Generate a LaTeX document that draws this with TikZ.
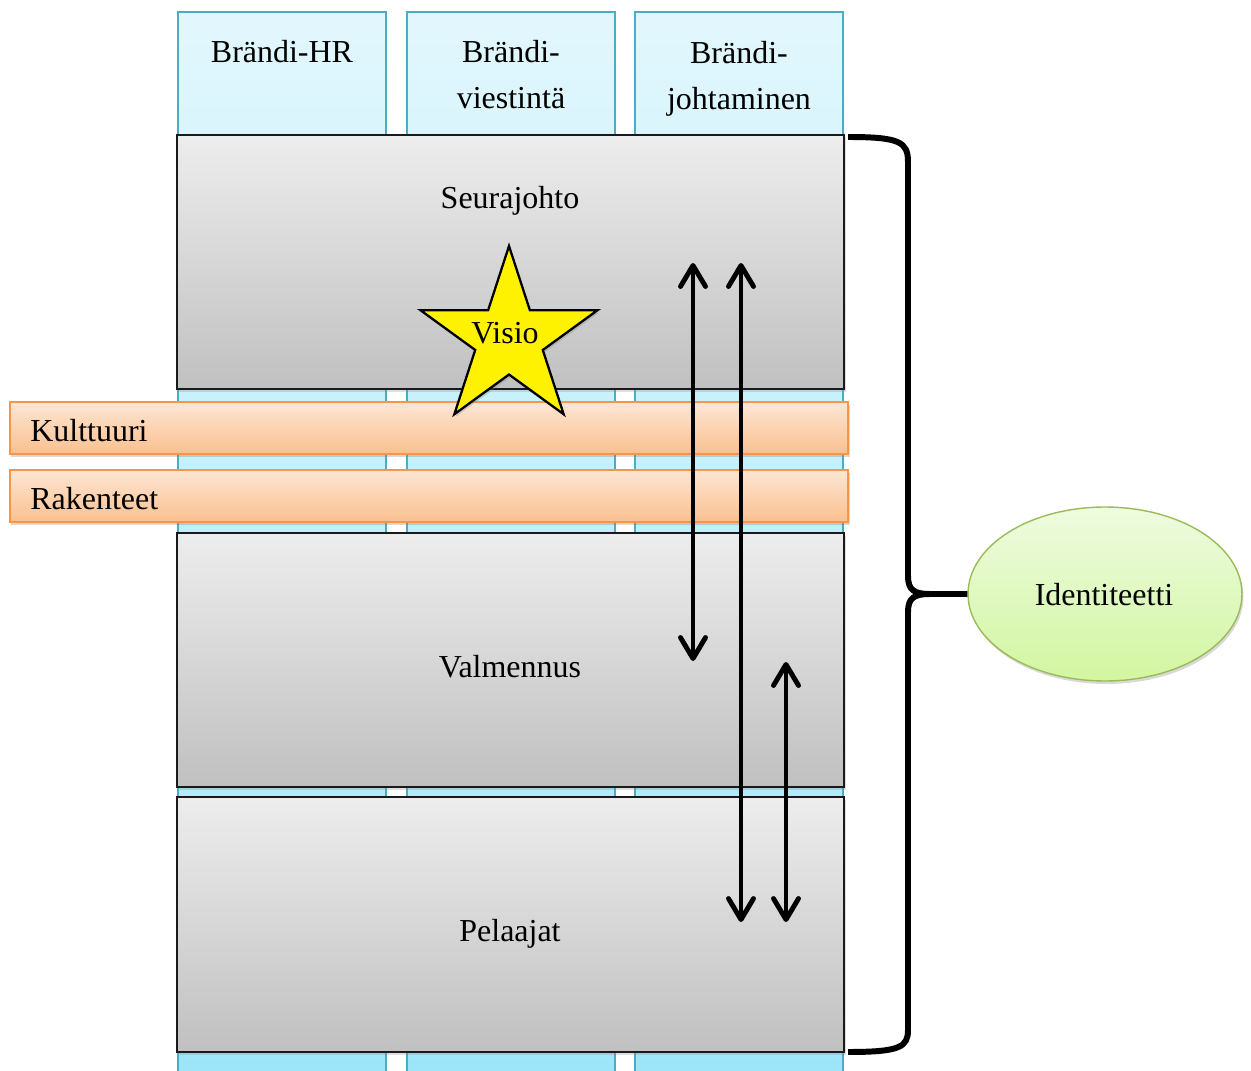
\documentclass[tikz,border=0pt]{standalone}
\usepackage{fontspec}
\setmainfont{Liberation Serif}
\usetikzlibrary{arrows.meta,shapes.geometric,fit,shadows}
\definecolor{colTop}{HTML}{E2F7FD}
\definecolor{colBot}{HTML}{9CE6FA}
\definecolor{colLine}{HTML}{4BACC6}
\definecolor{grayTop}{HTML}{EDEDED}
\definecolor{grayBot}{HTML}{C0C0C0}
\definecolor{grayLine}{HTML}{1A1A1A}
\definecolor{orTop}{HTML}{FDE6D4}
\definecolor{orBot}{HTML}{FAC08F}
\definecolor{orLine}{HTML}{F79646}
\definecolor{grTop}{HTML}{EEFBE0}
\definecolor{grBot}{HTML}{D2F6A0}
\definecolor{grLine}{HTML}{9BBB59}
\tikzset{
  colbox/.style={draw=colLine, line width=0.8pt, top color=colTop, bottom color=colBot, inner sep=0pt},
  graybox/.style={draw=grayLine, line width=0.8pt, top color=grayTop, bottom color=grayBot, inner sep=0pt,
    drop shadow={shadow xshift=0.03cm, shadow yshift=-0.05cm, opacity=0.25}},
  barbox/.style={draw=orLine, line width=0.8pt, top color=orTop, bottom color=orBot, inner sep=0pt,
    drop shadow={shadow xshift=0.03cm, shadow yshift=-0.06cm, opacity=0.3}},
  lbl/.style={font=\fontsize{18.2}{26.2}\selectfont, inner sep=0pt, align=center},
  dblarrow/.style={line width=2.8pt, {Straight Barb[length=0.42cm, width=0.5cm, round]}-{Straight Barb[length=0.42cm, width=0.5cm, round]}},
}
\begin{document}
\begin{tikzpicture}[x=0.02cm,y=-0.02cm]
\useasboundingbox (0,0) rectangle (1251,1071);
% columns
\node[colbox, fit={(178,12) (386,1080)}] (c1) {};
\node[colbox, fit={(407,12) (615,1080)}] (c2) {};
\node[colbox, fit={(635,12) (843,1080)}] (c3) {};
\node[lbl] (c1t) at (282,52) {Brändi-HR};
\node[lbl] (c2t) at (511,75) {Brändi-\\viestintä};
\node[lbl] (c3t) at (739,79) {Brändi-\\johtaminen};
% gray levels
\node[graybox, fit={(177,135) (844,389)}] (seura) {};
\node[graybox, fit={(177,533) (844,787)}] (valm) {};
\node[graybox, fit={(177,797) (844,1052)}] (pel) {};
\node[lbl] (seurat) at (510,201) {Seurajohto};
\node[lbl] (valmt) at (510,667) {Valmennus};
\node[lbl] (pelt) at (510,934) {Pelaajat};
% bars
\node[barbox, fit={(10,402) (848,454)}] (kult) {};
\node[barbox, fit={(10,470) (848,522)}] (rak) {};
\node[lbl, anchor=west] (kultt) at (30,431) {Kulttuuri};
\node[lbl, anchor=west] (rakt) at (30,499) {Rakenteet};
% star
\node[star, star points=5, star point ratio=2.618, minimum size=3.72cm, inner sep=0pt,
  draw=black, line width=1.3pt, fill=yellow,
  drop shadow={shadow xshift=0.03cm, shadow yshift=-0.05cm, opacity=0.3}] (star) at (509,339) {};
\node[lbl] (visio) at (505,333) {Visio};
% arrows
\coordinate (a1t) at (693,263);
\coordinate (a1b) at (693,661);
\coordinate (a2t) at (741,263);
\coordinate (a2b) at (741,922);
\coordinate (a3t) at (786,662);
\coordinate (a3b) at (786,922);
\draw[dblarrow] (a1t) -- (a1b);
\draw[dblarrow] (a2t) -- (a2b);
\draw[dblarrow] (a3t) -- (a3b);
% ellipse
\node[ellipse, draw=grLine, line width=0.8pt, top color=grTop, bottom color=grBot,
  minimum width=5.48cm, minimum height=3.48cm, inner sep=0pt,
  drop shadow={shadow xshift=0.03cm, shadow yshift=-0.06cm, opacity=0.3}] (ident) at (1105,594) {};
\node[lbl] (identt) at (1104,595) {Identiteetti};
% brace
\coordinate (bt) at (848,137);
\coordinate (bb) at (848,1052);
\coordinate (bmid) at (930,594);
\draw[line width=3.4pt, line join=round, line cap=butt]
  (bt) .. controls (900,137) and (908,142) .. (908,162) -- (908,576)
  .. controls (908,590) and (914,594) .. (bmid) -- (ident.west);
\draw[line width=3.4pt, line join=round, line cap=butt]
  (bmid) .. controls (914,594) and (908,598) .. (908,612) -- (908,1030)
  .. controls (908,1047) and (900,1052) .. (bb);
\end{tikzpicture}
\end{document}
